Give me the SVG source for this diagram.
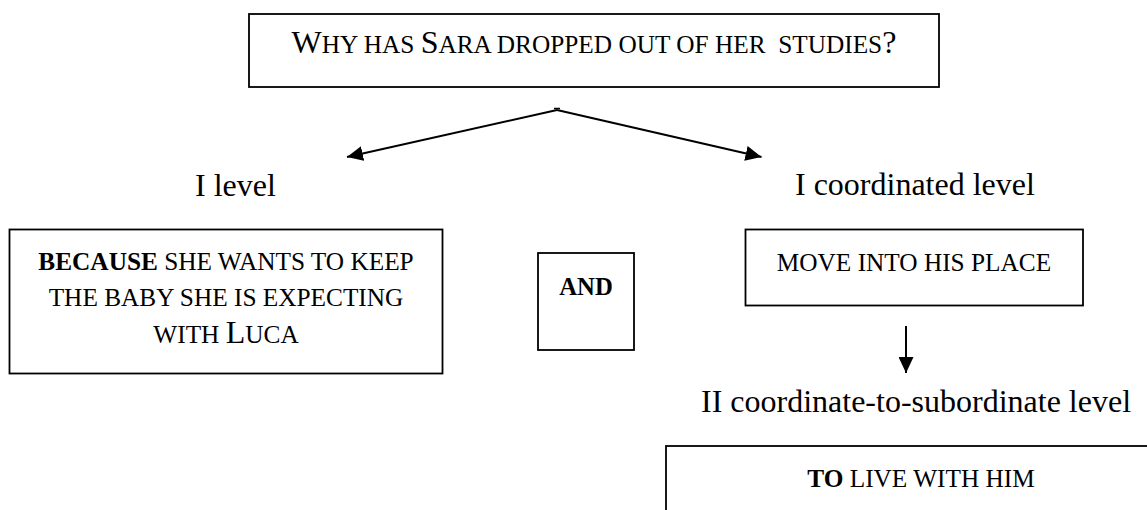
<svg xmlns="http://www.w3.org/2000/svg" width="1147" height="510" viewBox="0 0 1147 510">
<defs>
<style>
.box{fill:#fff;stroke:#000;stroke-width:1.8}
.t{font-family:"Liberation Serif","Times New Roman",serif;font-size:32px;fill:#000}
.m{text-anchor:middle}
.s{font-size:25.3px}
.b{font-weight:bold}
.c{stroke:#000;stroke-width:2;fill:none}
</style>
<marker id="ah" markerUnits="userSpaceOnUse" markerWidth="17" markerHeight="15" refX="16" refY="7.5" orient="auto">
<path d="M0,0 L16,7.5 L0,15 z" fill="#000"/>
</marker>
</defs>
<rect width="1147" height="510" fill="#fff"/>
<g id="connectors">
<line class="c" x1="557" y1="110" x2="347" y2="157" marker-end="url(#ah)"/>
<line class="c" x1="557" y1="110" x2="761.5" y2="157" marker-end="url(#ah)"/>
<line x1="554" y1="108.5" x2="560" y2="108.5" stroke="#000" stroke-width="1.5"/>
<line class="c" x1="906" y1="326" x2="906" y2="373" marker-end="url(#ah)"/>
</g>
<g id="question">
<rect class="box" x="249" y="14" width="690" height="73"/>
<text class="t m" x="594" y="53" xml:space="preserve">W<tspan class="s">HY HAS </tspan>S<tspan class="s">ARA DROPPED OUT OF HER  STUDIES</tspan>?</text>
</g>
<g id="label-i-level">
<text class="t" x="195" y="196">I level</text>
</g>
<g id="label-i-coordinated">
<text class="t" x="795" y="195">I coordinated level</text>
</g>
<g id="because">
<rect class="box" x="9.5" y="229.5" width="433" height="144"/>
<text class="t m s" x="226" y="270"><tspan class="b">BECAUSE</tspan> SHE WANTS TO KEEP</text>
<text class="t m s" x="226" y="306">THE BABY SHE IS EXPECTING</text>
<text class="t m" x="226" y="343" xml:space="preserve"><tspan class="s">WITH </tspan>L<tspan class="s">UCA</tspan></text>
</g>
<g id="and">
<rect class="box" x="538" y="253" width="96" height="97"/>
<text class="t m b" x="586" y="295" style="font-size:24.7px">AND</text>
</g>
<g id="move">
<rect class="box" x="745.5" y="229.5" width="337.5" height="76"/>
<text class="t m s" x="914" y="271">MOVE INTO HIS PLACE</text>
</g>
<g id="label-ii">
<text class="t m" x="916" y="412">II coordinate-to-subordinate level</text>
</g>
<g id="to-live">
<rect class="box" x="666" y="446" width="520" height="100"/>
<text class="t m s" x="921" y="487"><tspan class="b">TO</tspan> LIVE WITH HIM</text>
</g>
</svg>
